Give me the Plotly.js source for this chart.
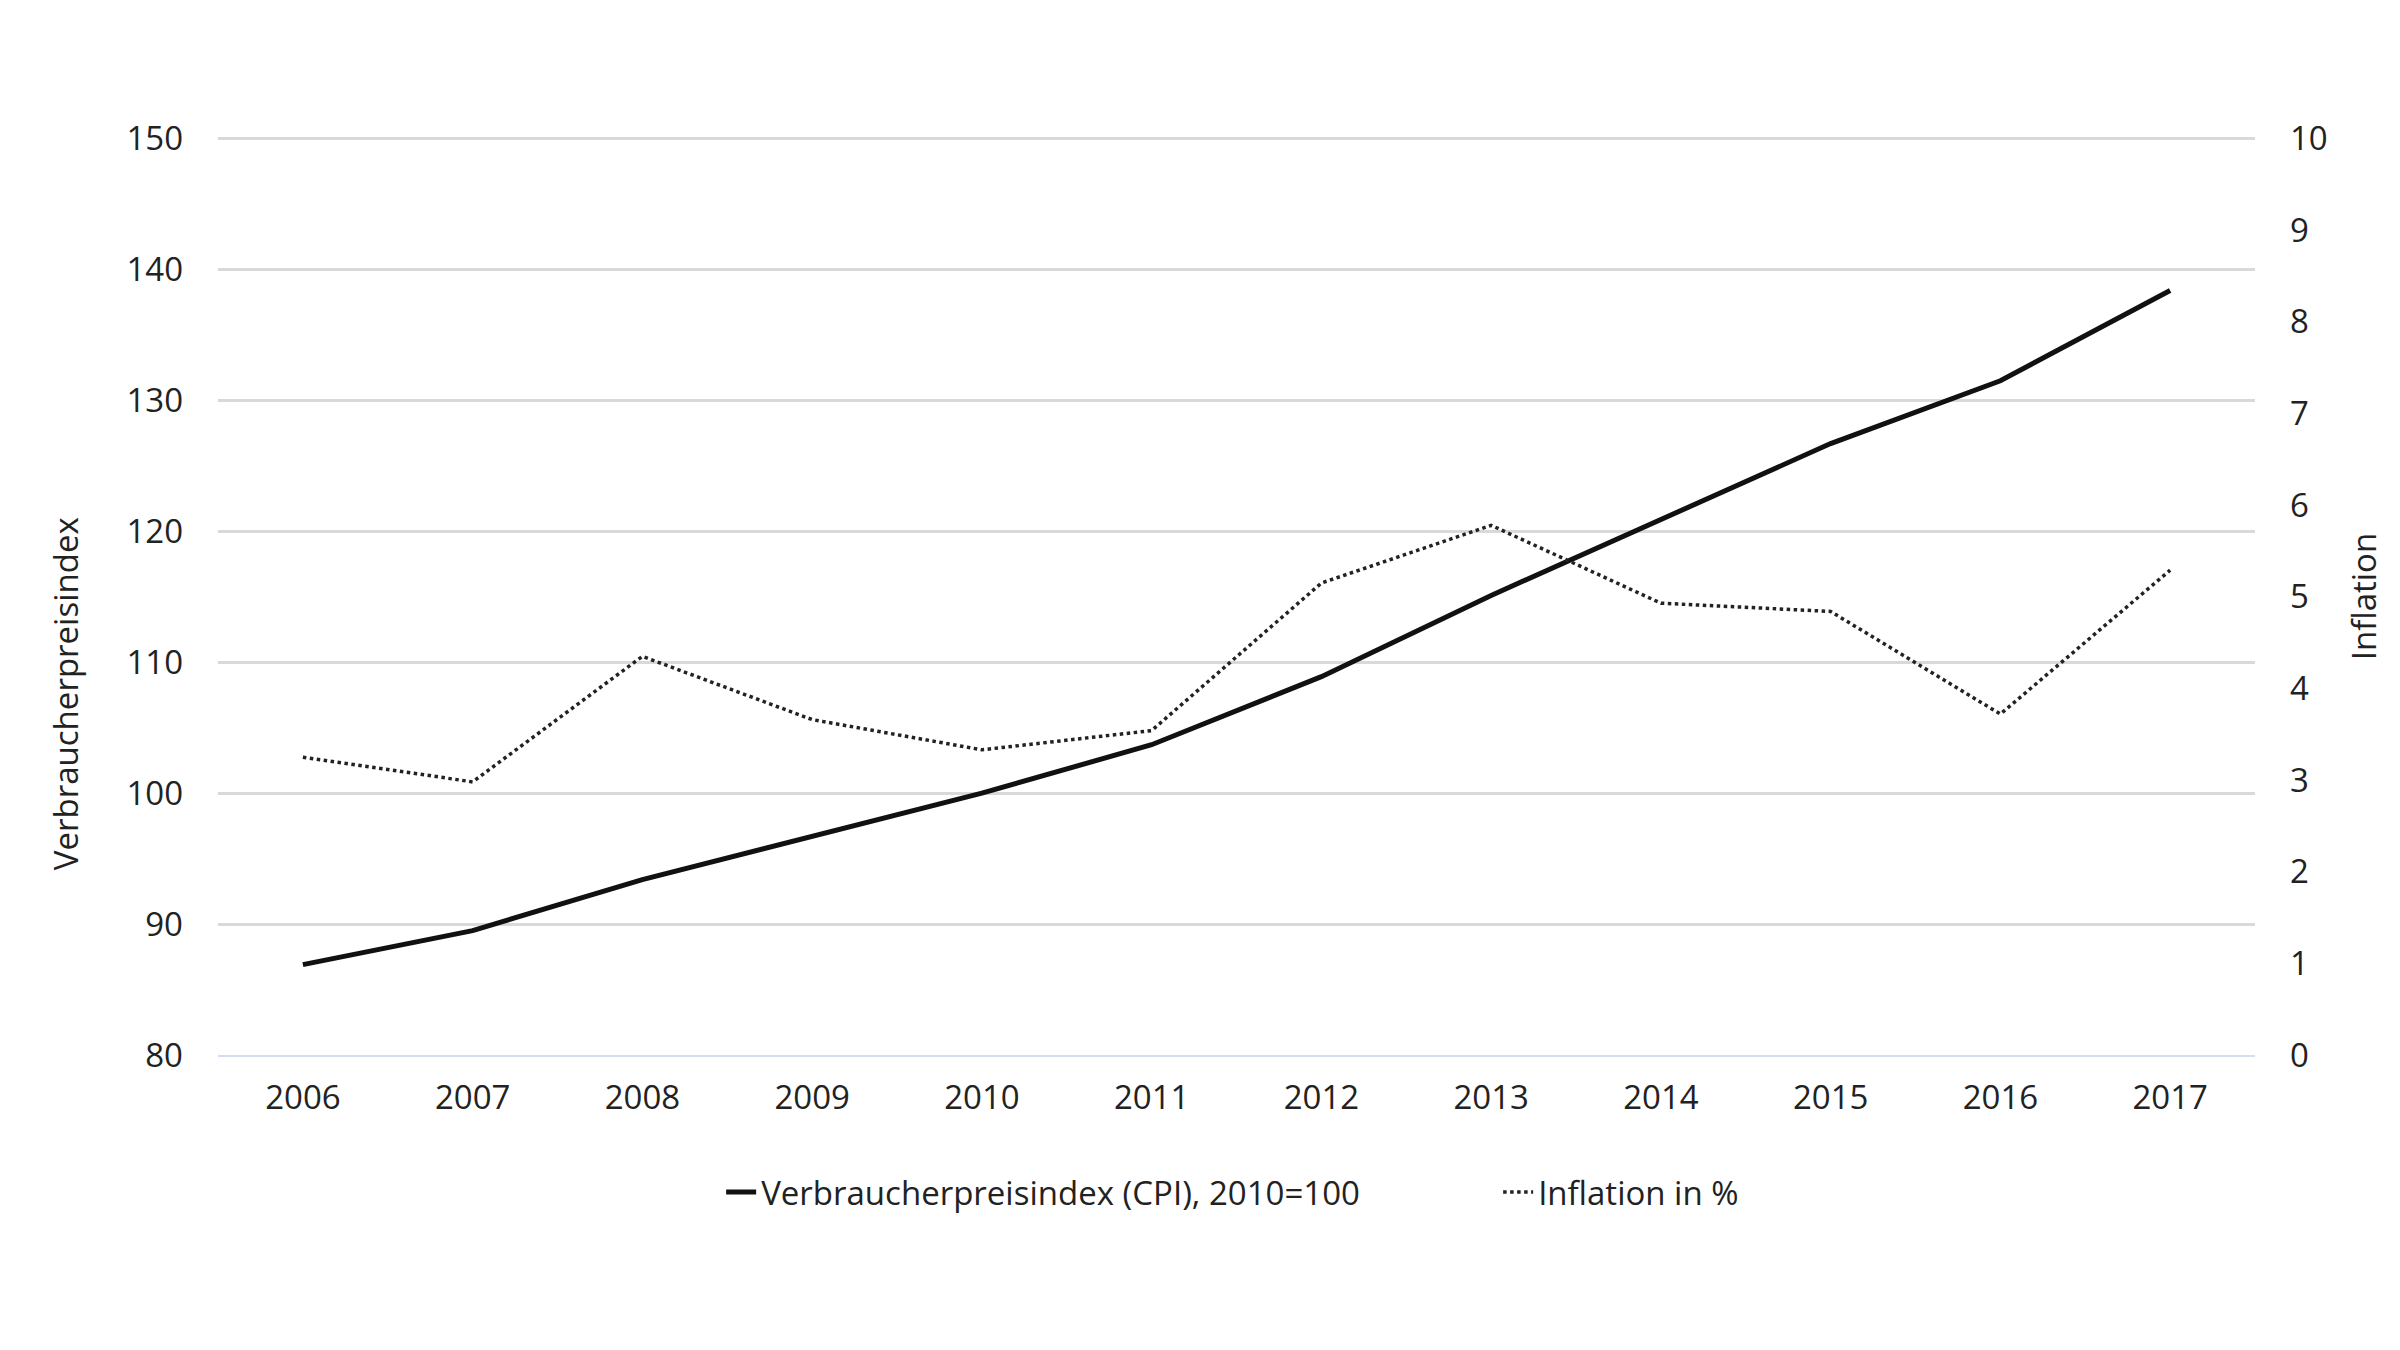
<!DOCTYPE html>
<html>
<head>
<meta charset="utf-8">
<script src="https://cdn.plot.ly/plotly-3.0.1.min.js"></script>
<style>
  html, body { margin: 0; padding: 0; background: #fff; }
  #chart { width: 2400px; height: 1350px; }
</style>
</head>
<body>
<div id="chart"></div>
<script>
// years on the category axis
const years = ['2006', '2007', '2008', '2009', '2010', '2011',
               '2012', '2013', '2014', '2015', '2016', '2017'];

// consumer price index, 2010 = 100 (left axis)
const cpi = [86.9, 89.5, 93.4, 96.7, 100.0, 103.7,
             108.9, 115.1, 120.9, 126.7, 131.5, 138.4];

// inflation in percent (right axis)
const inflation = [3.25, 2.98, 4.35, 3.66, 3.33, 3.54,
                   5.15, 5.78, 4.93, 4.84, 3.72, 5.29];

const cpiTicks = [80, 90, 100, 110, 120, 130, 140, 150];
const inflTicks = [0, 1, 2, 3, 4, 5, 6, 7, 8, 9, 10];

const cpiName = 'Verbraucherpreisindex (CPI), 2010=100';
const inflName = 'Inflation in %';
const leftTitle = 'Verbraucherpreisindex';
const rightTitle = 'Inflation';

const font = { family: 'Open Sans, Lato, sans-serif', size: 33, color: '#222' };

const data = [
  {
    x: years, y: cpi, name: cpiName,
    type: 'scatter', mode: 'lines',
    line: { color: '#111', width: 5 }
  },
  {
    x: years, y: inflation, name: inflName, yaxis: 'y2',
    type: 'scatter', mode: 'lines',
    line: { color: '#222', width: 3.5, dash: 'dot' }
  }
];

// a little headroom above 150 / 10 so the top grid line is drawn
const headroom = 70.5 / 70;

const layout = {
  width: 2400, height: 1350,
  margin: { l: 218, r: 145, t: 132, b: 295 },
  paper_bgcolor: '#fff', plot_bgcolor: '#fff',
  font: font,
  showlegend: true,
  legend: {
    orientation: 'h', x: 0.247, xanchor: 'left', y: -0.1484, yanchor: 'middle',
    font: font, itemwidth: 30, entrywidth: 732, tracegroupgap: 0
  },
  xaxis: {
    type: 'category', range: [-0.5, 11.5],
    showgrid: false, zeroline: false,
    showline: true, linecolor: '#d5def0', linewidth: 2,
    ticks: '', ticklabelstandoff: 12,
    tickfont: font
  },
  yaxis: {
    range: [80, 80 + 70 * headroom], tickvals: cpiTicks,
    showgrid: true, gridcolor: '#d9d9d9', gridwidth: 3,
    zeroline: false, showline: false,
    ticks: '', ticklabelstandoff: 34,
    tickfont: font
  },
  yaxis2: {
    overlaying: 'y', side: 'right',
    range: [0, 10 * headroom], tickvals: inflTicks,
    showgrid: false, zeroline: false, showline: false,
    ticks: '', ticklabelstandoff: 34,
    tickfont: font
  },
  annotations: [
    {
      text: leftTitle, xref: 'paper', yref: 'paper',
      x: -0.0751, y: 0.391, xanchor: 'center', yanchor: 'middle',
      textangle: -90, showarrow: false, font: font
    },
    {
      text: rightTitle, xref: 'paper', yref: 'paper',
      x: 1.053, y: 0.497, xanchor: 'center', yanchor: 'middle',
      textangle: -90, showarrow: false, font: font
    }
  ]
};

Plotly.newPlot('chart', data, layout, { displayModeBar: false, staticPlot: true });
</script>
</body>
</html>
